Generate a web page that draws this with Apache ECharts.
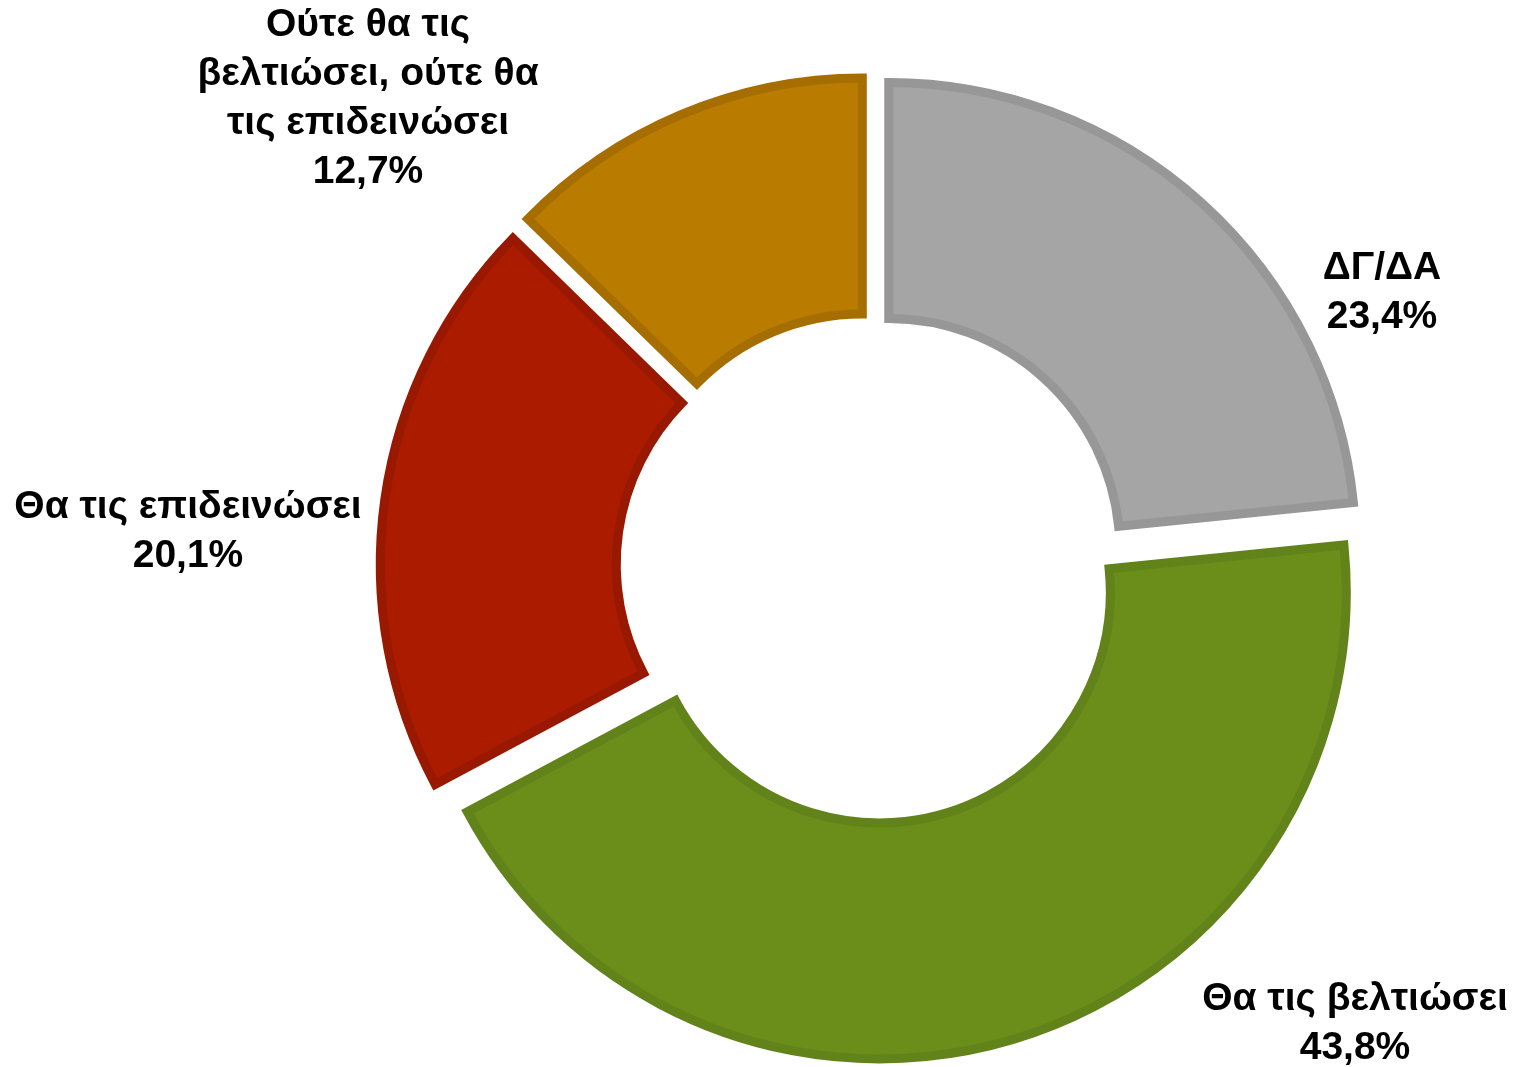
<!DOCTYPE html>
<html>
<head>
<meta charset="utf-8">
<script src="https://cdn.jsdelivr.net/npm/echarts@6/dist/echarts.min.js"></script>
<style>
  html, body { margin: 0; padding: 0; background: #fff; }
  #chart { width: 1518px; height: 1067px; }
</style>
</head>
<body>
<div id="chart"></div>
<script>
// categories, clockwise from 12 o'clock
const categories = [
  "ΔΓ/ΔΑ",
  "Θα τις βελτιώσει",
  "Θα τις επιδεινώσει",
  "Ούτε θα τις\nβελτιώσει, ούτε θα\nτις επιδεινώσει"
]
const values = [23.4, 43.8, 20.1, 12.7]

const fills = ["#a5a5a5", "#6b8e1a", "#aa1b00", "#b97b00"]
const borders = ["#979797", "#62821a", "#991800", "#a66e00"]

// where the labels sit (centre of each text block)
const labelSpots = [[1382, 293], [1355, 1024], [188, 532], [368, 99]]

const center = [872, 568]
const radius = [231, 467]

const chart = echarts.init(document.getElementById("chart"))

chart.setOption({
  animation: false,
  series: [
    {
      // exploded ring
      type: "pie",
      center: center,
      radius: radius,
      startAngle: 90,
      clockwise: true,
      selectedMode: "multiple",
      selectedOffset: 25,
      label: { show: false },
      labelLine: { show: false },
      emphasis: { disabled: true },
      data: categories.map((name, i) => ({
        name: name,
        value: values[i],
        selected: true,
        itemStyle: {
          color: fills[i],
          borderColor: borders[i],
          borderWidth: 9,
          borderJoin: "miter"
        }
      }))
    },
    {
      // same data, invisible, only carries the labels
      // (selected slices pin their labels, so labelLayout is ignored there)
      type: "pie",
      center: center,
      radius: radius,
      startAngle: 90,
      clockwise: true,
      silent: true,
      selectedMode: false,
      avoidLabelOverlap: false,
      itemStyle: { color: "rgba(0,0,0,0)" },
      label: {
        show: true,
        position: "outside",
        fontFamily: "Liberation Sans",
        fontWeight: "bold",
        fontSize: 39,
        lineHeight: 49,
        color: "#000",
        formatter: p => p.name + "\n" + p.value.toFixed(1).replace(".", ",") + "%"
      },
      labelLine: { show: false },
      labelLayout: function (p) {
        return {
          x: labelSpots[p.dataIndex][0],
          y: labelSpots[p.dataIndex][1],
          align: "center",
          verticalAlign: "middle"
        }
      },
      data: categories.map((name, i) => ({ name: name, value: values[i] }))
    }
  ]
})
</script>
</body>
</html>
